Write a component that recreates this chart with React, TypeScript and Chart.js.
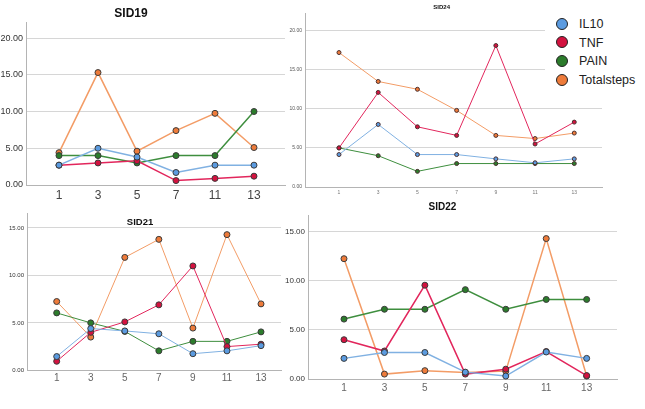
import React, { useEffect, useRef } from "react";
import { Chart, registerables } from "chart.js";
Chart.register(...registerables);

const SERIES = ["IL10", "TNF", "PAIN", "Totalsteps"];
const LINE_COLORS = ["#80b1e2", "#e2265c", "#3e8e3e", "#f39c66"];
const POINT_COLORS = ["#5b9be0", "#d3123f", "#2c7c2c", "#ee7b3a"];

const sid19Cats = ["1", "3", "5", "7", "11", "13"];
const sid19IL10 = [2.7, 5.0, 3.8, 1.7, 2.7, 2.7];
const sid19TNF = [2.7, 3.0, 3.3, 0.6, 0.9, 1.2];
const sid19PAIN = [4, 4, 3, 4, 4, 10];
const sid19Steps = [4.4, 15.3, 4.6, 7.4, 9.75, 5.1];

const sidCats = ["1", "3", "5", "7", "9", "11", "13"];
const sid24IL10 = [4.15, 8.0, 4.15, 4.15, 3.6, 3.1, 3.6];
const sid24TNF = [5.0, 12.1, 7.7, 6.6, 18.1, 5.5, 8.3];
const sid24PAIN = [5, 4, 2, 3, 3, 3, 3];
const sid24Steps = [17.2, 13.5, 12.5, 9.8, 6.6, 6.2, 6.9];

const sid21IL10 = [1.45, 4.4, 4.15, 3.85, 1.75, 2.05, 2.6];
const sid21TNF = [0.95, 4.0, 5.1, 6.9, 11.0, 2.5, 2.75];
const sid21PAIN = [6.05, 5.0, 4.1, 2.05, 3.05, 3.05, 4.05];
const sid21Steps = [7.25, 3.5, 11.9, 13.8, 4.45, 14.3, 7.0];

const sid22IL10 = [2.1, 2.7, 2.7, 0.7, 0.3, 2.75, 2.1];
const sid22TNF = [4.0, 2.85, 9.55, 0.5, 1.0, 2.8, 0.35];
const sid22PAIN = [6.1, 7.1, 7.1, 9.1, 7.1, 8.1, 8.1];
const sid22Steps = [12.25, 0.5, 0.85, 0.65, 0.8, 14.3, 0.3];

const yTicks20 = [0, 5, 10, 15, 20];
const yTicks15 = [0, 5, 10, 15];

const W = 645;
const H = 409;
const FONT = 'Arial, "Liberation Sans", sans-serif';

type Panel = {
  title: string;
  titleX: number;
  titleY: number;
  titleSize: number;
  cats: string[];
  series: number[][];
  yTicks: number[];
  area: { l: number; t: number; r: number; b: number };
  xMin: number;
  xMax: number;
  yMax: number;
  yFont: number;
  xFont: number;
  xPad: number;
  yColor: string;
  xColor: string;
  lineWidth: number;
  pointRadius: number;
  pointBorderWidth: number;
  pointBorder: string;
};

const panels: Panel[] = [
  {
    title: "SID19", titleX: 131, titleY: 12.5, titleSize: 12,
    cats: sid19Cats,
    series: [sid19IL10, sid19TNF, sid19PAIN, sid19Steps],
    yTicks: yTicks20,
    area: { l: 26, t: 22, r: 285, b: 185 },
    xMin: -0.846, xMax: 5.795, yMax: 22.18,
    yFont: 9, xFont: 12, xPad: 3, yColor: "#333", xColor: "#444",
    lineWidth: 1.5, pointRadius: 3, pointBorderWidth: 1, pointBorder: "#3a3a3a",
  },
  {
    title: "SID24", titleX: 441.7, titleY: 7, titleSize: 6,
    cats: sidCats,
    series: [sid24IL10, sid24TNF, sid24PAIN, sid24Steps],
    yTicks: yTicks20,
    area: { l: 305, t: 13, r: 602, b: 187 },
    xMin: -0.867, xMax: 6.707, yMax: 22.26,
    yFont: 5, xFont: 5, xPad: 2.7, yColor: "#555", xColor: "#777",
    lineWidth: 1, pointRadius: 2, pointBorderWidth: 1, pointBorder: "#4a3030",
  },
  {
    title: "SID21", titleX: 140, titleY: 222, titleSize: 9.5,
    cats: sidCats,
    series: [sid21IL10, sid21TNF, sid21PAIN, sid21Steps],
    yTicks: yTicks15,
    area: { l: 27, t: 213, r: 281, b: 370.3 },
    xMin: -0.872, xMax: 6.587, yMax: 16.58,
    yFont: 6, xFont: 10, xPad: 2, yColor: "#333", xColor: "#666",
    lineWidth: 1, pointRadius: 3, pointBorderWidth: 1, pointBorder: "#3a3a3a",
  },
  {
    title: "SID22", titleX: 442.5, titleY: 206.7, titleSize: 10,
    cats: sidCats,
    series: [sid22IL10, sid22TNF, sid22PAIN, sid22Steps],
    yTicks: yTicks15,
    area: { l: 308, t: 215, r: 617, b: 379 },
    xMin: -0.89, xMax: 6.75, yMax: 16.7,
    yFont: 8, xFont: 10, xPad: 3.3, yColor: "#333", xColor: "#666",
    lineWidth: 1.5, pointRadius: 3, pointBorderWidth: 1, pointBorder: "#3a3a3a",
  },
];

const Y_AXIS_W = 25;
const X_AXIS_H = 20;

function makeChart(canvas: HTMLCanvasElement, p: Panel) {
  return new Chart(canvas, {
    type: "line",
    data: {
      datasets: p.series.map((vals, si) => ({
        label: SERIES[si],
        data: vals.map((v, i) => ({ x: i, y: v })),
        borderColor: LINE_COLORS[si],
        backgroundColor: POINT_COLORS[si],
        borderWidth: p.lineWidth,
        pointRadius: p.pointRadius,
        pointBackgroundColor: POINT_COLORS[si],
        pointBorderColor: p.pointBorder,
        pointBorderWidth: p.pointBorderWidth,
        tension: 0,
        fill: false,
        clip: false as any,
      })),
    },
    options: {
      animation: false,
      responsive: false,
      events: [],
      layout: {
        padding: {
          left: p.area.l - Y_AXIS_W,
          top: p.area.t,
          right: W - p.area.r,
          bottom: H - p.area.b - X_AXIS_H,
        },
      },
      plugins: {
        legend: { display: false },
        title: { display: false },
        tooltip: { enabled: false },
      },
      scales: {
        x: {
          type: "linear",
          min: p.xMin,
          max: p.xMax,
          grid: { display: false, drawTicks: false },
          border: { display: true, color: "#b4b4b4", width: 1 },
          afterBuildTicks: (scale: any) => {
            scale.ticks = p.cats.map((_, i) => ({ value: i }));
          },
          afterFit: (scale: any) => {
            scale.height = X_AXIS_H;
          },
          ticks: {
            autoSkip: false,
            maxRotation: 0,
            padding: p.xPad,
            color: p.xColor,
            font: { family: FONT, size: p.xFont },
            callback: (v: any) => p.cats[Math.round(Number(v))] ?? "",
          },
        },
        y: {
          type: "linear",
          min: 0,
          max: p.yMax,
          grid: { color: "#d6d6d6", lineWidth: 1, drawTicks: false },
          border: { display: true, color: "#b4b4b4", width: 1 },
          afterBuildTicks: (scale: any) => {
            scale.ticks = p.yTicks.map((v) => ({ value: v }));
          },
          afterFit: (scale: any) => {
            scale.width = Y_AXIS_W;
          },
          ticks: {
            padding: 3,
            color: p.yColor,
            font: { family: FONT, size: p.yFont },
            callback: (v: any) => Number(v).toFixed(2),
          },
        },
      },
    } as any,
  });
}

export default function App() {
  const refs = useRef<(HTMLCanvasElement | null)[]>([]);

  useEffect(() => {
    const charts = panels.map((p, i) => makeChart(refs.current[i] as HTMLCanvasElement, p));
    return () => charts.forEach((c) => c.destroy());
  }, []);

  return (
    <div
      style={{
        position: "absolute",
        left: 0,
        top: 0,
        width: W,
        height: H,
        background: "#fff",
        overflow: "hidden",
        fontFamily: FONT,
      }}
    >
      {panels.map((p, i) => (
        <canvas
          key={p.title}
          ref={(el) => {
            refs.current[i] = el;
          }}
          width={W}
          height={H}
          style={{ position: "absolute", left: 0, top: 0, width: W, height: H }}
        />
      ))}
      {panels.map((p) => (
        <div
          key={"t" + p.title}
          style={{
            position: "absolute",
            left: p.titleX - 50,
            width: 100,
            top: p.titleY - p.titleSize / 2,
            fontSize: p.titleSize,
            lineHeight: `${p.titleSize}px`,
            fontWeight: "bold",
            textAlign: "center",
            color: "#111",
            whiteSpace: "nowrap",
          }}
        >
          {p.title}
        </div>
      ))}
      <div
        style={{
          position: "absolute",
          left: 545,
          top: 8,
          width: 100,
          height: 88,
          background: "#fff",
        }}
      >
        {SERIES.map((s, i) => (
          <div key={s}>
            <div
              style={{
                position: "absolute",
                left: 562.7 - 545 - 6.5,
                top: 24 + i * 18.7 - 8 - 6.5,
                width: 10,
                height: 10,
                borderRadius: "50%",
                background: POINT_COLORS[i],
                border: "1.5px solid #222",
              }}
            />
            <div
              style={{
                position: "absolute",
                left: 579 - 545,
                top: 24 + i * 18.7 - 8 - 7,
                fontSize: 12.5,
                lineHeight: "14px",
                color: "#222",
                whiteSpace: "nowrap",
              }}
            >
              {s}
            </div>
          </div>
        ))}
      </div>
    </div>
  );
}
